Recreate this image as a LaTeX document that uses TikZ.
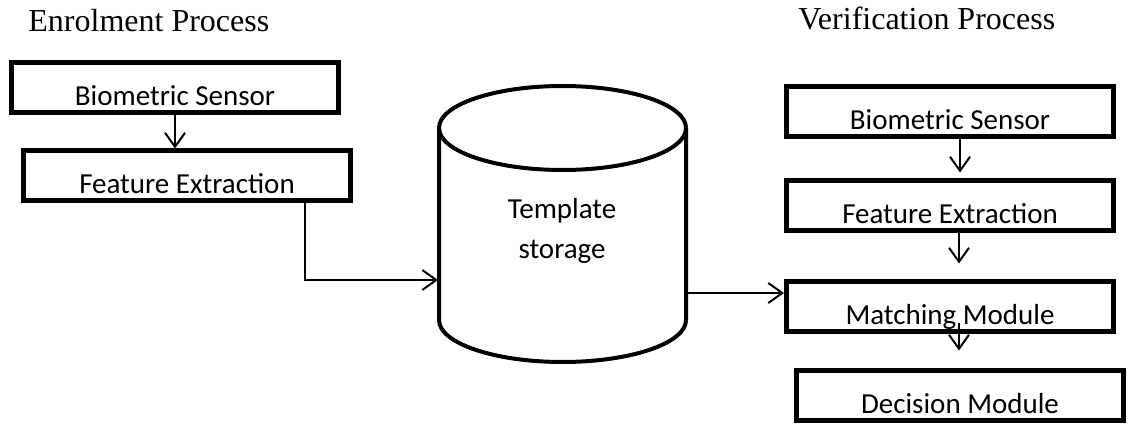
\documentclass[tikz,border=0pt]{standalone}
\usepackage{fontspec}
\setmainfont{Liberation Serif}
\newfontfamily\calib{Carlito}
\usetikzlibrary{positioning, arrows.meta}
\tikzset{
  modbox/.style={draw, line width=2.5pt, inner sep=0pt, minimum width=163.5pt,
    text height=21.5pt, text depth=3.5pt, font=\calib\fontsize{14.5}{17}\selectfont},
  arr/.style={-{Straight Barb[length=7pt, width=10pt]}, line width=1pt},
  title/.style={anchor=base west, inner sep=0pt, font=\fontsize{16}{19}\selectfont}
}

\begin{document}
\begin{tikzpicture}[x=0.5pt, y=-0.5pt]
    \useasboundingbox (0,0) rectangle (1129,427);
    \node[title] (enrol) at (28,32) {Enrolment Process};
    \node[title] (verif) at (798,30) {Verification Process};

    % enrolment side
    \node[modbox] (lbs) at (175,88) {Biometric Sensor};
    \node[modbox, below=16.5pt of lbs, xshift=6pt] (lfe) {Feature Extraction};

    % template storage
    \draw[line width=2pt] (439,128) -- (439,320)
      arc[start angle=180, end angle=0, x radius=123.5, y radius=42] -- (686,128);
    \draw[line width=2pt] (562.5,128) ellipse [x radius=123.5, y radius=42];
    \node[align=center, font=\calib\fontsize{14.5}{20}\selectfont] (store) at (562,231) {Template\\storage};
    \coordinate (cylin) at (438,280);
    \coordinate (cylout) at (687,293);

    % verification side
    \node[modbox] (rbs) at (950,112) {Biometric Sensor};
    \node[modbox, below=19.5pt of rbs] (rfe) {Feature Extraction};
    \node[modbox, below=22.5pt of rfe] (mm) {Matching Module};
    \node[modbox, below=17pt of mm, xshift=5pt] (rdm) {Decision Module};

    \draw[arr] (lbs.south) -- (lbs.south |- lfe.north);
    \draw[arr] ([xshift=59pt]lfe.south) |- (cylin);
    \draw[arr] (cylout) -- (cylout -| mm.west);
    \draw[arr, shorten >=3pt] ([xshift=5pt]rbs.south) -- ([xshift=5pt]rfe.north);
    \draw[arr, shorten >=7.5pt] ([xshift=4.5pt]rfe.south) -- ([xshift=4.5pt]mm.north);
    \draw[arr, shorten >=8.5pt] ([xshift=4.5pt, yshift=5.5pt]mm.south) -- ([xshift=-0.5pt]rdm.north);
\end{tikzpicture}
\end{document}
